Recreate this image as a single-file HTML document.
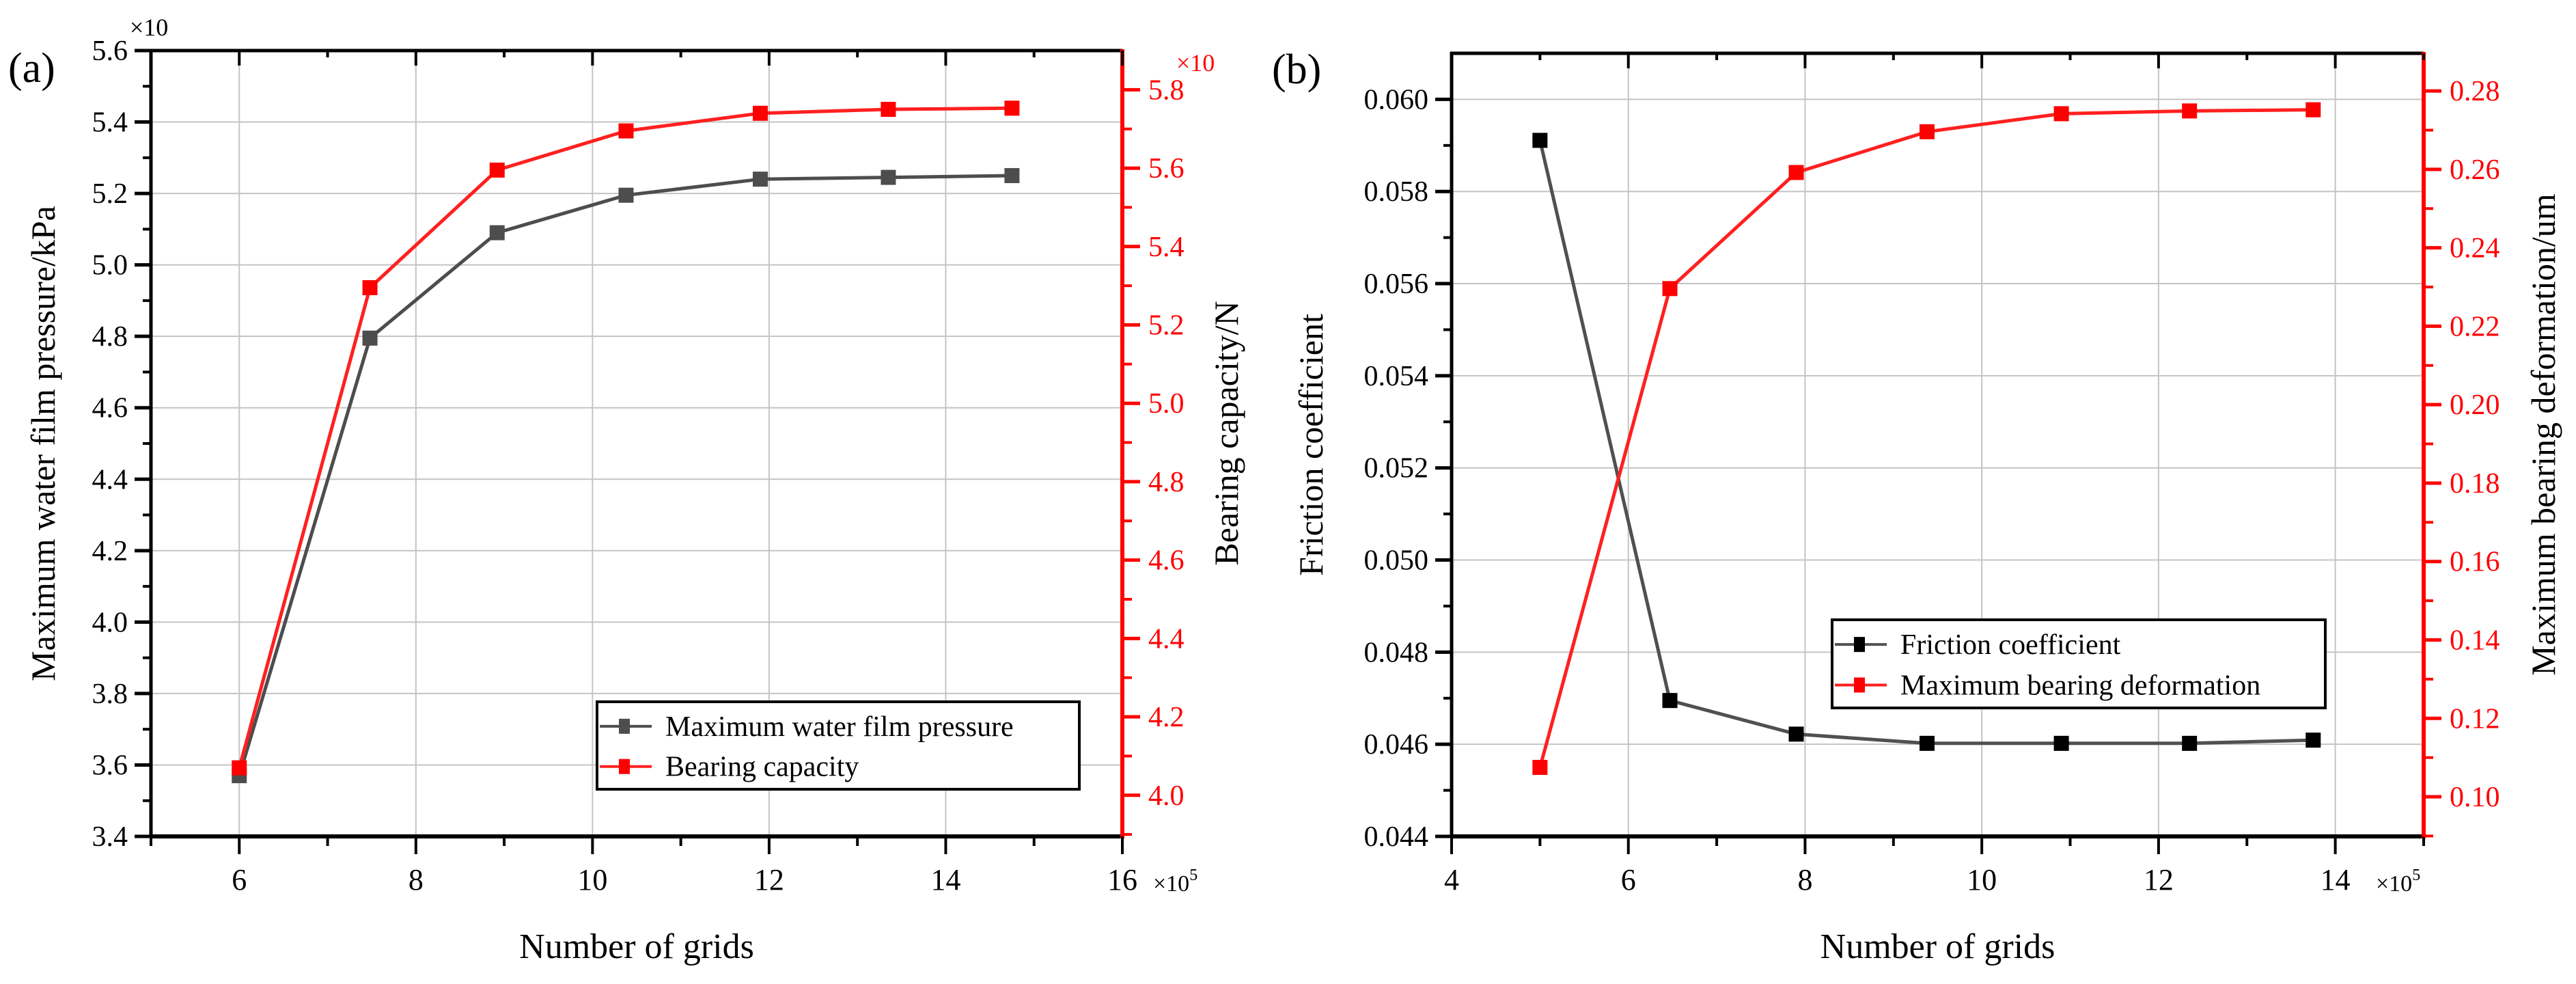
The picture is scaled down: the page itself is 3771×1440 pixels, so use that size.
<!DOCTYPE html>
<html><head><meta charset="utf-8">
<style>
html,body{margin:0;padding:0;background:#fff;}
svg{display:block;font-family:"Liberation Serif",serif;}
svg text{font-family:"Liberation Serif",serif;}
</style></head>
<body>
<svg id="fig" width="3771" height="1440" viewBox="0 0 3771 1440" font-family="Liberation Serif, serif" xmlns="http://www.w3.org/2000/svg"></svg>
<script>
// ---- Chart (a) data ----
const gridsA = [6, 7.48, 8.92, 10.38, 11.9, 13.35, 14.75];
const pressureA = [3.57, 4.795, 5.09, 5.195, 5.24, 5.245, 5.25];
const capacityA = [4.07, 5.295, 5.595, 5.695, 5.74, 5.75, 5.753];
const xTicksA = [6, 8, 10, 12, 14, 16];
const yTicksA = [3.4, 3.6, 3.8, 4.0, 4.2, 4.4, 4.6, 4.8, 5.0, 5.2, 5.4, 5.6];
const y2TicksA = [4.0, 4.2, 4.4, 4.6, 4.8, 5.0, 5.2, 5.4, 5.6, 5.8];
// ---- Chart (b) data ----
const gridsB = [5, 6.47, 7.9, 9.38, 10.9, 12.35, 13.75];
const frictionB = [0.05911, 0.04695, 0.04622, 0.04602, 0.04602, 0.04602, 0.04609];
const deformB = [0.1075, 0.2296, 0.2592, 0.2696, 0.2742, 0.2749, 0.2752];
const xTicksB = [4, 6, 8, 10, 12, 14];
const yTicksB = [0.044, 0.046, 0.048, 0.050, 0.052, 0.054, 0.056, 0.058, 0.060];
const y2TicksB = [0.10, 0.12, 0.14, 0.16, 0.18, 0.20, 0.22, 0.24, 0.26, 0.28];

const NS = "http://www.w3.org/2000/svg";
const svg = document.getElementById('fig');
function el(tag, attrs, parent, text) {
  const e = document.createElementNS(NS, tag);
  for (const k in attrs) e.setAttribute(k, attrs[k]);
  if (text !== undefined) e.textContent = text;
  (parent || svg).appendChild(e);
  return e;
}
function lin(d0, d1, p0, p1) { return v => p0 + (v - d0) / (d1 - d0) * (p1 - p0); }

function drawChart(cfg) {
  const g = el('g', {});
  
  
  const X = lin(cfg.xMin, cfg.xMax, cfg.L, cfg.R);
  const Y = lin(cfg.yMin, cfg.yMax, cfg.B, cfg.T);
  const Y2 = lin(cfg.y2Min, cfg.y2Max, cfg.B, cfg.T);
  const grid = el('g', {}, g);
  
  
  cfg.yTicks.forEach(v => { const y = Y(v); if (y > cfg.T + 3 && y < cfg.B - 3) el('line', {x1: cfg.L, x2: cfg.R, y1: y, y2: y, stroke: '#c4c4c4', 'stroke-width': 2}, grid); });
  cfg.xTicks.forEach(v => { const x = X(v); if (x > cfg.L + 3 && x < cfg.R - 3) el('line', {x1: x, x2: x, y1: cfg.T, y2: cfg.B, stroke: '#c4c4c4', 'stroke-width': 2}, grid); });
  function series(xs, ys, sc, color, mcolor, nm) {
    const s = el('g', {}, g);
    
    
    const pts = xs.map((x, i) => X(x).toFixed(1) + ',' + sc(ys[i]).toFixed(1)).join(' ');
    el('polyline', {points: pts, fill: 'none', stroke: color, 'stroke-width': 5}, s);
    xs.forEach((x, i) => {
      const r = el('rect', {x: X(x) - 11, y: sc(ys[i]) - 11, width: 22, height: 22, fill: mcolor}, s);
      
      
    });
  }
  series(cfg.xs, cfg.s1, Y, cfg.c1, cfg.m1, cfg.s1name);
  series(cfg.xs, cfg.s2, Y2, '#ff2020', '#ff0000', cfg.s2name);
  el('line', {x1: cfg.L - 2, x2: cfg.R, y1: cfg.T, y2: cfg.T, stroke: '#000', 'stroke-width': 5}, g);
  el('line', {x1: cfg.L - 2, x2: cfg.R, y1: cfg.B, y2: cfg.B, stroke: '#000', 'stroke-width': 6}, g);
  el('line', {x1: cfg.L, x2: cfg.L, y1: cfg.T - 2, y2: cfg.B + 2, stroke: '#000', 'stroke-width': 5}, g);
  el('line', {x1: cfg.R, x2: cfg.R, y1: cfg.T - 2, y2: cfg.B + 3, stroke: '#ff0000', 'stroke-width': 6}, g);
  const xa = el('g', {}, g);
  
  
  for (let v = cfg.xMin; v <= cfg.xMax + 1e-9; v += 1) {
    const x = X(v); const major = cfg.xTicks.some(t => Math.abs(t - v) < 1e-9);
    el('line', {x1: x, x2: x, y1: cfg.B, y2: cfg.B + (major ? 26 : 14), stroke: '#000', 'stroke-width': 4}, xa);
    el('line', {x1: x, x2: x, y1: cfg.T, y2: cfg.T + (major ? 22 : 10), stroke: '#000', 'stroke-width': 4}, xa);
  }
  cfg.xTicks.forEach(v => el('text', {x: X(v), y: cfg.B + 78, 'font-size': 44, 'text-anchor': 'middle'}, xa, String(v)));
  const ex = el('text', {x: cfg.xExpX, y: cfg.B + 80, 'font-size': 34}, xa, '×10');
  const sup = el('tspan', {dy: -16, 'font-size': 24}, ex, '5');
  const xt = el('text', {x: (cfg.L + cfg.R) / 2, y: cfg.B + 178, 'font-size': 52, 'text-anchor': 'middle'}, xa, 'Number of grids');
  
  
  const ya = el('g', {}, g);
  
  
  cfg.yTicks.forEach((v, i) => {
    const y = Y(v);
    el('line', {x1: cfg.L - 24, x2: cfg.L, y1: y, y2: y, stroke: '#000', 'stroke-width': 5}, ya);
    if (i < cfg.yTicks.length - 1) { const ym = (y + Y(cfg.yTicks[i + 1])) / 2; el('line', {x1: cfg.L - 12, x2: cfg.L, y1: ym, y2: ym, stroke: '#000', 'stroke-width': 4}, ya); }
    el('text', {x: cfg.L - 34, y: y + 14, 'font-size': 42, 'text-anchor': 'end'}, ya, v.toFixed(cfg.yDec));
  });
  const yt = el('text', {transform: `translate(${cfg.yTitleX},${(cfg.T + cfg.B) / 2}) rotate(-90)`, 'font-size': 50, 'text-anchor': 'middle'}, ya, cfg.yTitle);
  
  
  const ra = el('g', {}, g);
  
  
  cfg.y2Ticks.forEach((v, i) => {
    const y = Y2(v);
    el('line', {x1: cfg.R, x2: cfg.R + 26, y1: y, y2: y, stroke: '#ff0000', 'stroke-width': 5}, ra);
    const ym = y + (Y2(cfg.y2Ticks[0]) - Y2(cfg.y2Ticks[1])) / 2;
    if (ym < cfg.B) el('line', {x1: cfg.R, x2: cfg.R + 14, y1: ym, y2: ym, stroke: '#ff0000', 'stroke-width': 4}, ra);
    el('text', {x: cfg.R + 38, y: y + 14, 'font-size': 42, fill: '#ff0000'}, ra, v.toFixed(cfg.y2Dec));
  });
  const yt2 = el('text', {transform: `translate(${cfg.y2TitleX},${cfg.y2TitleY}) rotate(-90)`, 'font-size': 50, 'text-anchor': 'middle'}, ra, cfg.y2Title);
  
  
  const lg = el('g', {}, g);
  
  
  const lb = cfg.leg;
  el('rect', {x: lb.x, y: lb.y, width: lb.w, height: lb.h, fill: '#fff', stroke: '#000', 'stroke-width': 4}, lg);
  [[cfg.c1, cfg.m1, cfg.s1label], ['#ff2020', '#ff0000', cfg.s2label]].forEach((it, i) => {
    const ry = lb.y + lb.h * (i === 0 ? 0.28 : 0.74);
    const e = el('g', {}, lg);
    
    
    el('line', {x1: lb.x + 4, x2: lb.x + 80, y1: ry, y2: ry, stroke: it[0], 'stroke-width': 4}, e);
    el('rect', {x: lb.x + 32, y: ry - 11, width: 16, height: 22, fill: it[1]}, e);
    el('text', {x: lb.x + 100, y: ry + 14, 'font-size': 42}, e, it[2]);
  });
}

drawChart({name: 'chart-a', L: 221, R: 1643, T: 74, B: 1224, xMin: 5, xMax: 16, yMin: 3.4, yMax: 5.6, y2Min: 3.895, y2Max: 5.9,
  xs: gridsA, s1: pressureA, s2: capacityA, c1: '#4d4d4d', m1: '#4d4d4d', s1name: 'series-pressure', s2name: 'series-capacity',
  xTicks: xTicksA, yTicks: yTicksA, y2Ticks: y2TicksA, yDec: 1, y2Dec: 1, xExpX: 1688,
  yTitle: 'Maximum water film pressure/kPa', yTitleX: 80, y2Title: 'Bearing capacity/N', y2TitleX: 1812, y2TitleY: 634,
  s1label: 'Maximum water film pressure', s2label: 'Bearing capacity', leg: {x: 874, y: 1027, w: 706, h: 128}});
drawChart({name: 'chart-b', L: 2125, R: 3548, T: 78, B: 1224, xMin: 4, xMax: 15, yMin: 0.044, yMax: 0.061, y2Min: 0.0899, y2Max: 0.2896,
  xs: gridsB, s1: frictionB, s2: deformB, c1: '#505050', m1: '#000', s1name: 'series-friction', s2name: 'series-deformation',
  xTicks: xTicksB, yTicks: yTicksB, y2Ticks: y2TicksB, yDec: 3, y2Dec: 2, xExpX: 3478,
  yTitle: 'Friction coefficient', yTitleX: 1936, y2Title: 'Maximum bearing deformation/um', y2TitleX: 3740, y2TitleY: 636,
  s1label: 'Friction coefficient', s2label: 'Maximum bearing deformation', leg: {x: 2682, y: 907, w: 722, h: 129}});

const pa = el('text', {x: 12, y: 120, 'font-size': 62}, svg, '(a)');


const pb = el('text', {x: 1862, y: 122, 'font-size': 62}, svg, '(b)');


const ea = el('text', {x: 190, y: 52, 'font-size': 36}, svg, '×10');


const eb = el('text', {x: 1722, y: 104, 'font-size': 36, fill: '#ff0000'}, svg, '×10');


</script>
</body></html>
